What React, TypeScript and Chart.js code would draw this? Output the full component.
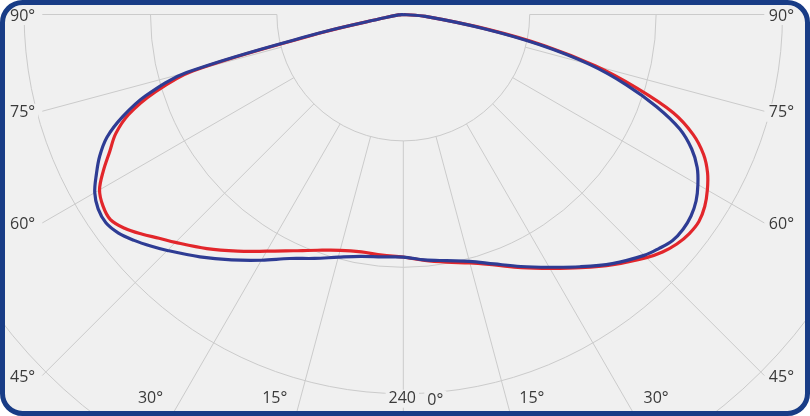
import { useEffect, useRef } from 'react';
import { Chart, registerables } from 'chart.js';

Chart.register(...registerables);

// Polar angles (degrees from nadir, negative = left, positive = right)
const angles = [
  -90, -85, -80, -77.5, -75, -72.5, -70, -67.5, -65, -62.5, -60, -57.5, -55, -52.5, -50, -47.5, -45,
  -40, -35, -30, -25, -20, -15, -10, -5, 0, 5, 10, 15, 20, 25, 30, 35, 40,
  45, 47.5, 50, 52.5, 55, 57.5, 60, 62.5, 65, 67.5, 70, 72.5, 75, 77.5, 80, 85, 90,
];

// Luminous intensity (cd/klm) – blue curve
const blueValues = [
  0, 3, 12, 55, 142, 171, 189, 203, 212, 219, 225.5, 229, 229.8, 227.2, 222.4, 216.9, 211.2,
  200.2, 189.6, 179.6, 170.4, 164.3, 159, 155.4, 154, 153.5, 155.9, 158.2, 161.7, 168, 176, 184.7, 194.9, 205.8,
  215.6, 219.3, 222.5, 223.2, 222.3, 219.7, 215.3, 209.7, 201.4, 189.4, 170.6, 148, 122, 88, 52, 14, 0,
];

// Luminous intensity (cd/klm) – red curve
const redValues = [
  0, 3, 12, 52, 138, 166, 185, 197, 205, 214, 222, 225.4, 226.3, 222.3, 216.2, 209.6, 204,
  193.4, 182.8, 173, 165, 158.8, 154.5, 152.6, 152.9, 153.5, 156.3, 159.2, 162.8, 168.7, 176.7, 185.5, 195.6, 206.6,
  217.6, 222.5, 226, 228, 228.4, 226.2, 222.2, 217.1, 209.7, 198.6, 181.8, 155, 126, 92, 55, 14, 0,
];

// Grid
const gridRadii = [80, 160, 240, 320];
const spokeAngles = [-90, -75, -60, -45, -30, -15, 0, 15, 30, 45, 60, 75, 90];
const spokeLabels = ['90°', '75°', '60°', '45°', '30°', '15°', '0°', '15°', '30°', '45°', '60°', '75°', '90°'];
const ringLabelValue = 240;
const ringLabel = '240';

// Layout (pixels)
const W = 810;
const H = 416;
const CX = 403.3;
const CY = 14.5;
const PX = 1.58;
const SIDE = 361;
const BG = '#f0f0f0';

function toPoints(values: number[]) {
  return angles.map((deg, i) => {
    const a = (deg * Math.PI) / 180;
    return { x: values[i] * Math.sin(a), y: -values[i] * Math.cos(a) };
  });
}

function roundRectPath(ctx: CanvasRenderingContext2D, x: number, y: number, w: number, h: number, r: number) {
  ctx.beginPath();
  ctx.moveTo(x + r, y);
  ctx.lineTo(x + w - r, y);
  ctx.arcTo(x + w, y, x + w, y + r, r);
  ctx.lineTo(x + w, y + h - r);
  ctx.arcTo(x + w, y + h, x + w - r, y + h, r);
  ctx.lineTo(x + r, y + h);
  ctx.arcTo(x, y + h, x, y + h - r, r);
  ctx.lineTo(x, y + r);
  ctx.arcTo(x, y, x + r, y, r);
  ctx.closePath();
}

function labelWithBg(ctx: CanvasRenderingContext2D, text: string, x: number, y: number, align: CanvasTextAlign) {
  const w = ctx.measureText(text).width;
  let left = x;
  if (align === 'center') left = x - w / 2;
  else if (align === 'right') left = x - w;
  ctx.save();
  ctx.fillStyle = BG;
  ctx.fillRect(left - 3, y - 9, w + 6, 18);
  ctx.restore();
  ctx.textAlign = align;
  ctx.fillText(text, x, y);
}

const polarGrid = {
  id: 'polarGrid',
  beforeDraw(chart: any) {
    const ctx = chart.ctx as CanvasRenderingContext2D;
    ctx.save();
    ctx.fillStyle = '#ffffff';
    ctx.fillRect(0, 0, W, H);
    roundRectPath(ctx, 2.5, 2.5, W - 5, H - 5, 20);
    ctx.fillStyle = BG;
    ctx.fill();
    ctx.restore();
  },
  beforeDatasetsDraw(chart: any) {
    const ctx = chart.ctx as CanvasRenderingContext2D;
    const xs = chart.scales.x;
    const ys = chart.scales.y;
    const cx = xs.getPixelForValue(0);
    const cy = ys.getPixelForValue(0);
    const unit = xs.getPixelForValue(1) - cx;
    const bottom = chart.chartArea.bottom;
    ctx.save();
    ctx.strokeStyle = '#cbcbcb';
    ctx.lineWidth = 1;
    gridRadii.forEach((r) => {
      ctx.beginPath();
      ctx.arc(cx, cy, r * unit, 0, Math.PI);
      ctx.stroke();
    });
    const r0 = gridRadii[0] * unit;
    const labels: Array<[string, number, number, CanvasTextAlign]> = [];
    spokeAngles.forEach((deg, i) => {
      const a = (deg * Math.PI) / 180;
      const s = Math.sin(a);
      const c = Math.cos(a);
      let t = Infinity;
      let side = false;
      if (Math.abs(s) > 1e-6) {
        t = SIDE / Math.abs(s);
        side = true;
      }
      if (c > 1e-6) {
        const tb = (bottom - cy) / c;
        if (tb < t) {
          t = tb;
          side = false;
        }
      }
      ctx.beginPath();
      ctx.moveTo(cx + s * r0, cy + c * r0);
      ctx.lineTo(cx + s * t, cy + c * t);
      ctx.stroke();

      const label = spokeLabels[i];
      if (side) {
        const ey = cy + c * t + 1.5;
        if (s < 0) labels.push([label, 10, ey, 'left']);
        else labels.push([label, W - 16, ey, 'right']);
      } else {
        const off = deg === 0 ? 32 : (bottom - cy) * Math.abs(Math.tan(a)) + 21;
        const lx = cx + (deg < 0 ? -off : off);
        labels.push([label, lx, deg === 0 ? 400 : 398, 'center']);
      }
    });
    labels.push([ringLabel, cx - 1, cy + ringLabelValue * unit + 5, 'center']);
    ctx.font = '16px "Open Sans", sans-serif';
    ctx.fillStyle = '#3a3a3a';
    ctx.textBaseline = 'middle';
    labels.forEach(([t, x, y, al]) => labelWithBg(ctx, t, x, y, al));
    ctx.restore();
  },
  afterDraw(chart: any) {
    const ctx = chart.ctx as CanvasRenderingContext2D;
    ctx.save();
    roundRectPath(ctx, 2.5, 2.5, W - 5, H - 5, 20);
    ctx.lineWidth = 5;
    ctx.strokeStyle = '#183c86';
    ctx.stroke();
    ctx.restore();
  },
};

export default function App() {
  const ref = useRef<HTMLCanvasElement | null>(null);
  useEffect(() => {
    if (!ref.current) return;
    const chart = new Chart(ref.current, {
      type: 'scatter',
      data: {
        datasets: [
          {
            label: 'Blue',
            data: toPoints(blueValues),
            showLine: true,
            borderColor: '#2e3c94',
            borderWidth: 3.2,
            pointRadius: 0,
            tension: 0.35,
            fill: false,
          },
          {
            label: 'Red',
            data: toPoints(redValues),
            showLine: true,
            borderColor: '#e2262b',
            borderWidth: 3.2,
            pointRadius: 0,
            tension: 0.35,
            fill: false,
          },
        ],
      },
      options: {
        responsive: false,
        animation: false,
        layout: { padding: 0 },
        plugins: { legend: { display: false }, tooltip: { enabled: false } },
        scales: {
          x: { type: 'linear', display: false, min: -CX / PX, max: (W - CX) / PX },
          y: { type: 'linear', display: false, min: -(H - CY) / PX, max: CY / PX },
        },
      },
      plugins: [polarGrid],
    } as any);
    return () => chart.destroy();
  }, []);
  return (
    <div style={{ position: 'fixed', left: 0, top: 0, width: W, height: H }}>
      <canvas ref={ref} width={W} height={H} style={{ display: 'block', width: W, height: H }} />
    </div>
  );
}
